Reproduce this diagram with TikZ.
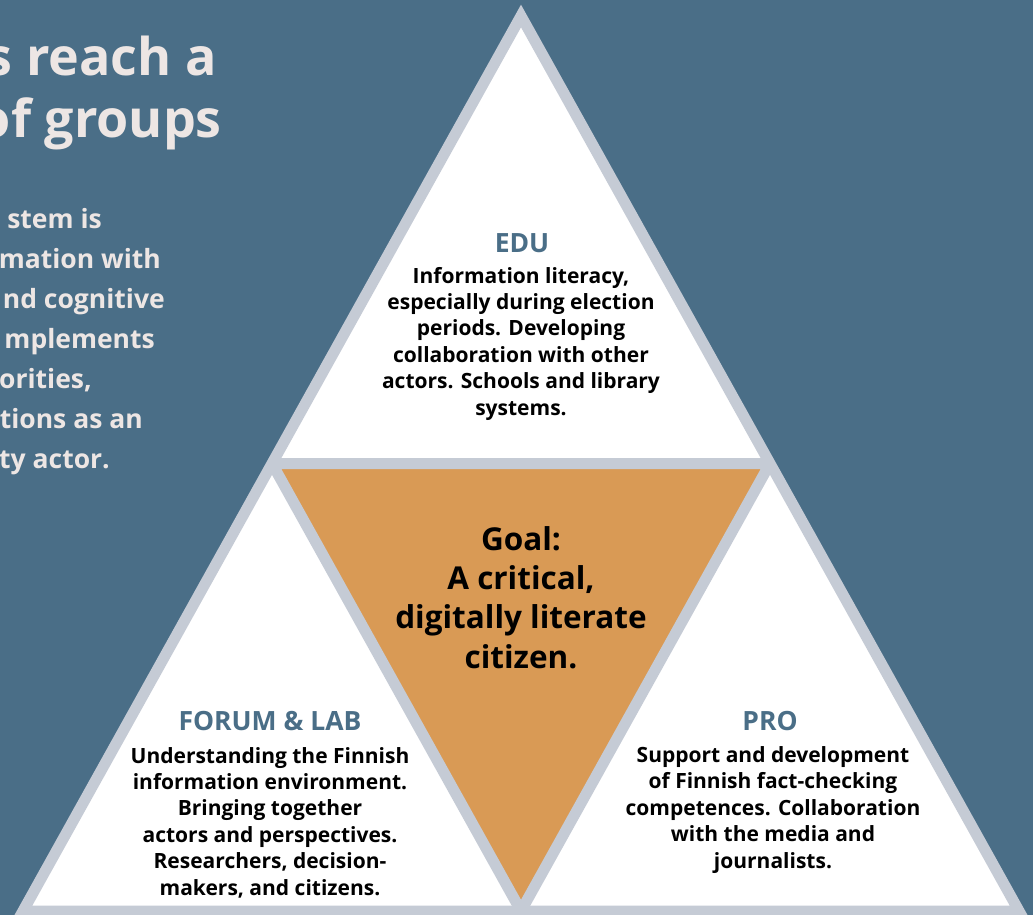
\documentclass[tikz,border=0pt]{standalone}
\usepackage{fontspec}
\setmainfont{Open Sans}
\usetikzlibrary{calc,positioning}

\definecolor{slate}{HTML}{4A6E87}
\definecolor{rim}{HTML}{C5CBD5}
\definecolor{ochre}{HTML}{D99A55}
\definecolor{pale}{HTML}{EDE6E4}

\begin{document}
\begin{tikzpicture}[x=1pt, y=-1pt]
\tikzset{
    % Define style for the lines between the triangles
    rimline/.style={
           draw=rim,
           line width=11pt,
           line join=miter},
    % Define style for the headings
    head/.style={
           font=\fontsize{26.5}{30}\selectfont\bfseries,
           text=slate,
           inner sep=0pt,
           anchor=base},
    % Define style for the texts in the triangles
    blurb/.style={
           font=\fontsize{21}{26.4}\selectfont\bfseries,
           align=center,
           inner sep=0pt,
           anchor=base},
    % Define style for the cut texts on the left
    title/.style={
           font=\fontsize{52}{62}\selectfont\bfseries,
           text=pale,
           inner sep=0pt,
           anchor=base east},
    side/.style={
           font=\fontsize{26.5}{40}\selectfont\bfseries,
           text=pale,
           inner sep=0pt,
           anchor=base east}
}
\useasboundingbox (0,0) rectangle (1033,915);
\fill[slate] (0,0) rectangle (1033,915);

 %corners
 \coordinate (apex) at (521,16);
 \coordinate (lc) at (23,911);
 \coordinate (rc) at (1019,911);
 \coordinate (ml) at ($(apex)!0.5!(lc)$);
 \coordinate (mr) at ($(apex)!0.5!(rc)$);
 \coordinate (mb) at ($(lc)!0.5!(rc)$);

 %triangles
 \fill[white] (apex) -- (lc) -- (rc) -- cycle;
 \fill[ochre] (ml) -- (mr) -- (mb) -- cycle;
 \begin{scope}
   \clip (apex) -- (lc) -- (rc) -- cycle;
   \draw[rimline] (ml) -- (mr) -- (mb) -- cycle;
 \end{scope}
 \draw[rimline] (apex) -- (lc) -- (rc) -- cycle;

 %cut texts on the left
 \node[title] (t1) at (217,76) {s reach a};
 \node[title] (t2) at (222,138) {of groups};
 \node[side] (s1) at (102,228) {stem is};
 \node[side] (s2) at (161,268) {mation with};
 \node[side] (s3) at (165,308) {nd cognitive};
 \node[side] (s4) at (155,348) {mplements};
 \node[side] (s5) at (92,388) {orities,};
 \node[side] (s6) at (143,428) {tions as an};
 \node[side] (s7) at (110,468) {ty actor.};

 %nodes (base is the last line)
 \node[head] (edu) at (522,252) {EDU};
 \node[blurb] (edutxt) at (521,415) {Information literacy,\\
   especially during election\\ periods. Developing\\
   collaboration with other\\ actors. Schools and library\\ systems.};

 \node[font=\fontsize{31.5}{39.3}\selectfont\bfseries, align=center, inner sep=0pt,
   anchor=base] (goal) at (521,668) {Goal:\\ A critical,\\ digitally literate\\ citizen.};

 \node[head] (forum) at (270,730) {FORUM \& LAB};
 \node[blurb] (forumtxt) at (270,895) {Understanding the Finnish\\
   information environment.\\ Bringing together\\
   actors and perspectives.\\ Researchers, decision-\\ makers, and citizens.};

 \node[head] (pro) at (770,730) {PRO};
 \node[blurb] (protxt) at (773,868) {Support and development\\
   of Finnish fact-checking\\ competences. Collaboration\\
   with the media and\\ journalists.};
\end{tikzpicture}
\end{document}
